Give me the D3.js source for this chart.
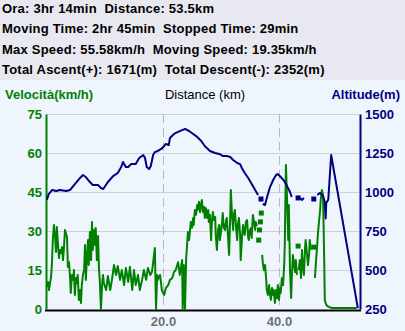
<!DOCTYPE html>
<html><head><meta charset="utf-8">
<script src="https://cdn.jsdelivr.net/npm/d3@7"></script>
<style>
html,body{margin:0;padding:0;background:#eff5fd;}
svg{display:block;}
text{font-family:"Liberation Sans",Arial,sans-serif;}
</style></head>
<body>
<script>
// ---- data ----
const headerLines = [
  "Ora: 3hr 14min  Distance: 53.5km",
  "Moving Time: 2hr 45min  Stopped Time: 29min",
  "Max Speed: 55.58km/h  Moving Speed: 19.35km/h",
  "Total Ascent(+): 1671(m)  Total Descent(-): 2352(m)"
];
const speedTitle = "Velocità(km/h)";
const distTitle = "Distance (km)";
const altTitle = "Altitude(m)";
const speedTicks = [0, 15, 30, 45, 60, 75];
const altTicks = [250, 500, 750, 1000, 1250, 1500];
const distTicks = [20, 40];

// speed [km, km/h]; null = gap
const speed = [
[0.0,8.5],[0.17,10.4],[0.34,7.3],[0.5,9.6],[0.7,12.3],[0.86,18],[1.0,26.5],[1.2,32.3],[1.4,27.3],[1.55,21.9],
[1.7,31.5],[1.9,24.6],[2.07,19.6],[2.2,22.7],[2.4,21.5],[2.6,23.8],[2.76,18.8],[2.9,22.7],[3.1,30.4],[3.3,28.8],
[3.45,27.7],[3.6,16.2],[3.8,18],[3.97,12.3],[4.1,6.2],[4.3,13.1],[4.5,11.2],[4.65,15],[4.8,5.4],[5.0,11.9],
[5.2,10],[5.3,13.1],[5.5,3.5],[5.7,7.3],[5.86,2.3],[6.0,9.2],[6.2,13.1],[6.4,15],[6.55,24.6],[6.7,11.2],
[6.9,20.8],[7.07,26.5],[7.2,16.9],[7.4,29.6],[7.6,18.8],[7.76,33.5],[7.9,22.7],[8.1,30.4],[8.3,24.6],[8.4,31.2],
[8.6,18.8],[8.8,28.1],[8.97,15],[9.1,11.2],[9.3,0],[9.5,9.2],[9.66,13.1],[9.8,10],[10.2,7.3],[10.5,12.7],
[10.9,7.3],[11.2,11.2],[11.55,16.9],[11.9,13.1],[12.2,16.5],[12.6,11.2],[12.9,15],[13.3,9.2],[13.6,15.8],[14.0,10.4],
[14.3,16.2],[14.7,7.3],[15.0,15],[15.3,9.2],[15.7,13.1],[16.0,7.3],[16.4,11.2],[16.7,15],[17.1,11.2],[17.4,15.8],
[17.8,13.1],[18.1,14.2],[18.6,23.5],[18.8,0],[19.0,13.1],[19.1,11.2],[19.5,13.1],[19.8,7.3],[20.2,5.4],[20.5,8.1],
[20.9,9.2],[21.2,11.2],[21.6,11.9],[21.9,14.2],[22.2,15],[22.6,18],[22.9,13.1],[23.3,18.8],[23.4,0],[23.6,16.9],
[23.8,0],[24.0,19.6],[24.1,22.7],[24.3,29.6],[24.5,26.5],[24.7,31.2],[24.8,33.5],[25.0,31.2],[25.2,35],[25.3,32.3],
[25.5,38.1],[25.7,36.2],[25.9,40],[26.0,38.1],[26.2,41.2],[26.4,37.3],[26.55,40],[26.7,41.9],[26.9,37.3],[27.1,39.2],
[27.2,35],[27.4,38.8],[27.6,35],[27.8,38.1],[27.9,33.5],[28.1,36.2],[28.3,26.5],[28.4,32.3],[28.6,37.3],[28.8,34.2],
[29.0,35.4],[29.1,28.5],[29.3,22.7],[29.5,30.4],[29.7,32.3],[29.8,26.5],[30.0,29.6],[30.2,33.5],[30.3,36.9],[30.5,31.2],
[30.7,30.4],[30.9,34.2],[31.0,35],[31.2,28.5],[31.4,20.8],[31.6,36.2],[31.7,45.8],[31.9,36.2],[32.1,30.4],[32.2,36.2],
[32.4,38.1],[32.6,31.2],[32.8,26.5],[32.9,32.3],[33.1,35],[33.3,28.5],[33.4,18.8],[33.6,26.5],[33.8,32.3],[34.0,29.6],
[34.1,28.5],[34.3,33.5],[34.5,34.2],[34.7,27.3],[34.8,26.5],[35.0,30.4],[35.2,31.2],[35.3,27.3],[35.5,36.2],[35.7,33.5],
[35.9,30.4],[36.0,33.5],[36.2,31.9],
null,[36.5,26.5],null,[36.65,30.4],null,[36.8,33.5],null,[36.95,36.9],null,
[37.1,20.8],[37.2,18],[37.4,15],[37.6,16.9],[37.8,11.2],[37.9,7.3],[38.1,5.4],[38.3,9.2],[38.4,6.5],[38.6,3.5],
[38.8,8.1],[39.0,5.4],[39.1,7.3],[39.3,2.3],[39.5,7.3],[39.7,4.2],[39.8,9.2],[40.0,3.5],[40.2,8.1],[40.3,6.2],
[40.5,11.9],[40.7,9.2],[40.9,16.9],[41.0,24.6],[41.2,55.4],[41.4,41.9],[41.6,26.5],[41.7,40],[41.9,15],[42.1,4.2],
[42.2,11.2],[42.4,20.8],[42.6,16.9],[42.8,14.2],[42.9,18.8],[43.1,13.1],
null,[43.3,24.2],null,
[43.4,15],[43.6,18.8],[43.8,11.9],[43.97,22.7],[44.1,16.9],[44.3,13.1],[44.5,23.5],[44.6,26.5],[44.8,21.9],[45.0,16.9],
[45.2,20.8],[45.3,26.5],[45.5,22.7],
null,[46.0,23.8],null,
[46.2,11.9],[46.4,18.8],[46.6,24.6],[46.7,28.5],[46.9,33.5],[47.1,38.1],[47.2,41.9],[47.4,45.8],[47.6,43.8],[47.8,18.8],
[47.9,3.5],[48.1,1.9],[48.3,1.2],[48.6,0.8],[49.1,0.4],[53.4,0.4]
];

// altitude [km, m]; null = gap
const altitude = [
[0.0,950],[0.3,987],[0.9,1013],[1.6,1006],[2.2,1013],[3.3,1006],[4.0,1013],[4.8,1051],[5.7,1090],[6.2,1109],
[6.7,1096],[7.4,1064],[7.9,1045],[8.8,1045],[9.3,1026],[9.7,1019],[10.5,1064],[11.4,1102],[12.2,1122],[12.8,1160],
[13.1,1192],[13.6,1160],[14.0,1160],[14.5,1179],[15.3,1179],[15.9,1218],[16.6,1237],[16.9,1218],[17.2,1160],[17.6,1147],
[17.9,1167],[18.3,1237],[18.6,1256],[19.1,1263],[19.7,1276],[20.2,1295],[20.5,1308],[21.0,1301],[21.2,1346],[21.9,1372],
[22.6,1385],[23.3,1397],[23.8,1404],[24.5,1391],[25.2,1372],[25.9,1353],[26.6,1327],[27.2,1295],[28.1,1263],[29.0,1250],
[29.7,1244],[30.3,1231],[31.0,1231],[31.6,1224],[32.1,1205],[32.8,1186],[33.3,1179],[33.6,1154],[34.1,1122],[34.7,1090],
[35.2,1058],[35.7,1026],[36.0,1006],[36.4,981],
null,[36.9,955],null,
[37.2,923],[37.6,917],[37.9,962],[38.4,1026],[39.0,1077],[39.5,1109],[39.8,1115],[40.3,1096],[40.9,1071],[41.4,1038],
[41.9,1000],[42.2,968],
null,[43.3,962],null,
[43.6,962],[44.0,949],[44.3,962],
null,[46.0,955],null,
[46.6,981],[47.1,994],[47.6,974],[47.9,936],[48.05,830],[48.15,930],[48.5,950],[49.0,1237],[53.6,256]
];

// ---- drawing ----
const W = 405, H = 331;
const svg = d3.select("body").append("svg").attr("width", W).attr("height", H);
svg.append("rect").attr("x",0).attr("y",0).attr("width",W).attr("height",H).attr("fill","#eff5fd");
svg.append("rect").attr("x",0).attr("y",0).attr("width",W).attr("height",80).attr("fill","#e8e8f0");

const x = d3.scaleLinear().domain([0, 53.8]).range([47, 359]);
const yS = d3.scaleLinear().domain([0, 75]).range([309, 114]);
const yA = d3.scaleLinear().domain([250, 1500]).range([309, 114]);

// header
svg.append("g").selectAll("text").data(headerLines).join("text")
  .attr("x", 2).attr("y", (d,i) => 8 + i*20.5).attr("dy","0.36em")
  .style("white-space","pre").attr("letter-spacing", 0.22)
  .attr("font-size", 13).attr("font-weight","bold").attr("fill","#000").text(d => d);

// titles
svg.append("text").attr("x",5).attr("y",94).attr("dy","0.36em").attr("font-size",13)
  .attr("font-weight","bold").attr("fill","#008000").text(speedTitle);
svg.append("text").attr("x",205).attr("y",94).attr("dy","0.36em").attr("font-size",13)
  .attr("text-anchor","middle").attr("fill","#000").text(distTitle);
svg.append("text").attr("x",400).attr("y",94).attr("dy","0.36em").attr("font-size",13)
  .attr("font-weight","bold").attr("text-anchor","end").attr("fill","#000080").text(altTitle);

// grid
svg.append("g").selectAll("line").data(speedTicks.filter(d => d > 0)).join("line")
  .attr("x1", 47).attr("x2", 359).attr("y1", d => Math.round(yS(d))+0.5).attr("y2", d => Math.round(yS(d))+0.5)
  .attr("stroke","#cfcfd6").attr("stroke-width",1);
svg.append("g").selectAll("line").data(distTicks).join("line")
  .attr("x1", d => Math.round(x(d))+0.5).attr("x2", d => Math.round(x(d))+0.5)
  .attr("y1", 114).attr("y2", 309)
  .attr("stroke","#b8b8c0").attr("stroke-width",1).attr("stroke-dasharray","9,5");

// axes
const gl = svg.append("g").attr("transform","translate(46,0)")
  .call(d3.axisLeft(yS).tickValues(speedTicks).tickSize(0).tickPadding(4).tickFormat(d3.format("d")));
gl.select(".domain").attr("stroke","#008000").attr("stroke-width",2);
gl.selectAll("text").attr("font-size",13).attr("font-weight","bold").attr("fill","#008000")
  .attr("font-family","Liberation Sans,Arial,sans-serif");

const gr = svg.append("g").attr("transform","translate(360,0)")
  .call(d3.axisRight(yA).tickValues(altTicks).tickSize(0).tickPadding(5).tickFormat(d3.format("d")));
gr.select(".domain").attr("stroke","#000080").attr("stroke-width",2);
gr.selectAll("text").attr("font-size",13).attr("font-weight","bold").attr("fill","#000080")
  .attr("font-family","Liberation Sans,Arial,sans-serif");

const gb = svg.append("g").attr("transform","translate(0,310.5)")
  .call(d3.axisBottom(x).tickValues(distTicks).tickSize(0).tickPadding(6).tickFormat(d3.format(".1f")));
gb.select(".domain").attr("stroke","#000").attr("stroke-width",2).attr("d","M45,0H361");
gb.selectAll("text").attr("font-size",13).attr("font-weight","bold").attr("fill","#707070")
  .attr("font-family","Liberation Sans,Arial,sans-serif");

// series helper
function drawSeries(data, yScale, color) {
  const defined = d => d !== null;
  const line = d3.line().defined(defined).x(d => x(d[0])).y(d => yScale(d[1]));
  svg.append("path").datum(data).attr("d", line).attr("fill","none")
    .attr("stroke", color).attr("stroke-width", 2).attr("stroke-linejoin","round");
  const isolated = data.filter((d,i) => d && !data[i-1] && !data[i+1]);
  svg.append("g").selectAll("rect").data(isolated).join("rect")
    .attr("x", d => x(d[0]) - 2.5).attr("y", d => yScale(d[1]) - 2.5)
    .attr("width", 5).attr("height", 5).attr("fill", color);
}
drawSeries(speed, yS, "#008000");
drawSeries(altitude, yA, "#000080");
</script>
</body></html>
